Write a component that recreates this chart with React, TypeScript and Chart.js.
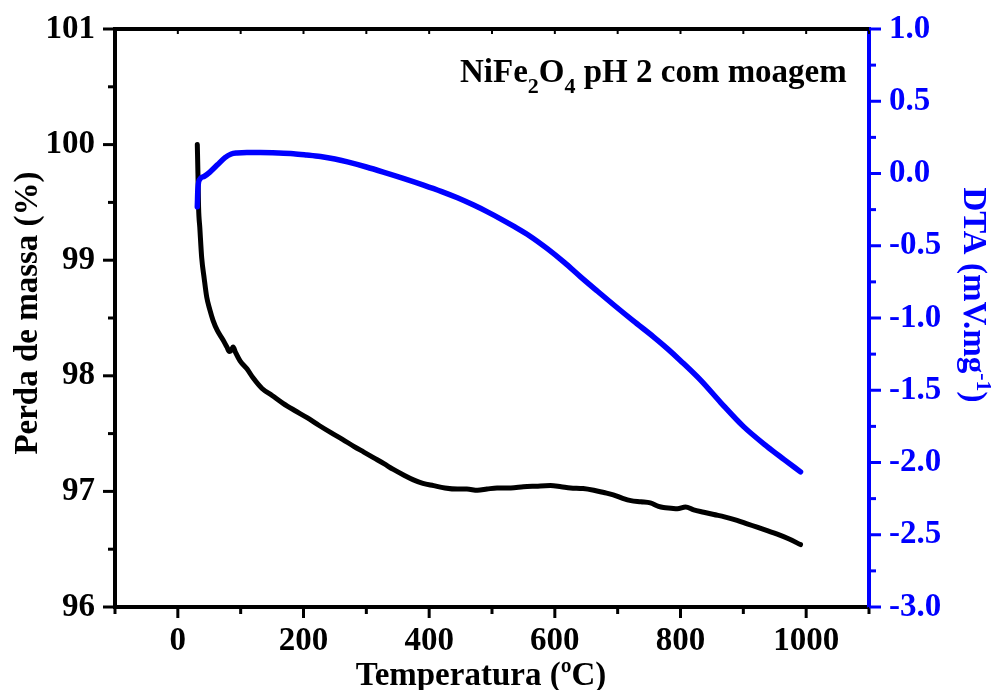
import { useEffect, useRef } from "react";
import { Chart, registerables } from "chart.js";

Chart.register(...registerables);

// Thermogravimetric curve: temperature (ºC) and remaining mass (%)
const tgTemp = [
  31, 32, 33, 35, 38, 42, 46, 51, 56, 63, 72, 78, 82, 85, 88, 92, 99, 110, 120, 134,
  150, 168, 186, 205, 225, 243, 262, 280, 296, 312, 328, 343, 360, 375, 390, 407, 425,
  445, 460, 477, 492, 508, 530, 550, 570, 593, 610, 625, 645, 662, 678, 693, 708, 721,
  737, 752, 765, 773, 785, 795, 808, 821, 837, 853, 870, 890, 906, 922, 938, 954, 972, 991,
];
const tgMass = [
  100.0, 99.75, 99.46, 99.28, 99.02, 98.84, 98.68, 98.57, 98.48, 98.39, 98.31, 98.25, 98.21,
  98.22, 98.25, 98.2, 98.13, 98.06, 97.98, 97.89, 97.83, 97.76, 97.7, 97.64, 97.57, 97.51,
  97.45, 97.39, 97.34, 97.29, 97.24, 97.19, 97.14, 97.1, 97.07, 97.05, 97.03, 97.02, 97.02,
  97.01, 97.02, 97.03, 97.03, 97.04, 97.045, 97.05, 97.04, 97.03, 97.025, 97.01, 96.99,
  96.97, 96.94, 96.92, 96.91, 96.9, 96.87, 96.86, 96.855, 96.85, 96.865, 96.84, 96.82, 96.8,
  96.78, 96.75, 96.72, 96.69, 96.66, 96.63, 96.59, 96.54,
];

// Differential thermal analysis signal (mV/mg)
const dtaTemp = [
  31, 32, 35, 42, 51, 63, 75, 85, 94, 110, 131, 160, 184, 205, 227, 250, 270, 300, 327, 360,
  391, 420, 445, 470, 492, 515, 535, 560, 588, 615, 641, 668, 694, 725, 757, 780, 800, 832,
  864, 900, 938, 965, 991,
];
const dtaSignal = [
  -0.23, -0.1, -0.04, -0.02, 0.01, 0.06, 0.11, 0.135, 0.142, 0.145, 0.145, 0.142, 0.137,
  0.128, 0.117, 0.1, 0.08, 0.045, 0.01, -0.035, -0.08, -0.125, -0.168, -0.217, -0.264, -0.317,
  -0.366, -0.432, -0.52, -0.615, -0.715, -0.815, -0.91, -1.02, -1.13, -1.215, -1.295, -1.43,
  -1.585, -1.75, -1.89, -1.98, -2.065,
];

// Axis ticks
const tempTicks = [0, 200, 400, 600, 800, 1000];
const tempMinorTicks = [-100, 100, 300, 500, 700, 900, 1100];
const massTicks = [96, 97, 98, 99, 100, 101];
const massMinorTicks = [96.5, 97.5, 98.5, 99.5, 100.5];
const dtaTicks = [-3.0, -2.5, -2.0, -1.5, -1.0, -0.5, 0.0, 0.5, 1.0];
const dtaMinorTicks = [-2.75, -2.25, -1.75, -1.25, -0.75, -0.25, 0.25, 0.75];

const FONT = "'Liberation Serif', 'Times New Roman', serif";
const BLUE = "#0000ff";
const BLACK = "#000000";
const FS = 33;

type Run = { t: string; shift?: number; small?: boolean };

function drawRuns(ctx: CanvasRenderingContext2D, runs: Run[], x: number, y: number) {
  let cx = x;
  for (const r of runs) {
    ctx.font = `bold ${r.small ? 22 : FS}px ${FONT}`;
    ctx.fillText(r.t, cx, y + (r.shift || 0));
    cx += ctx.measureText(r.t).width;
  }
}

function runsWidth(ctx: CanvasRenderingContext2D, runs: Run[]) {
  let w = 0;
  for (const r of runs) {
    ctx.font = `bold ${r.small ? 22 : FS}px ${FONT}`;
    w += ctx.measureText(r.t).width;
  }
  return w;
}

const frameDecor = {
  id: "frameDecor",
  afterDraw(chart: any) {
    const { ctx, chartArea: a, scales } = chart;
    const sx = scales.x;
    const sy = scales.y;
    const sy1 = scales.y1;
    const seg = (x1: number, y1: number, x2: number, y2: number, color: string, w: number) => {
      ctx.strokeStyle = color;
      ctx.lineWidth = w;
      ctx.beginPath();
      ctx.moveTo(x1, y1);
      ctx.lineTo(x2, y2);
      ctx.stroke();
    };
    ctx.save();
    ctx.lineCap = "butt";

    // top frame line with short inward ticks
    seg(a.left - 2, a.top, a.right, a.top, BLACK, 4);
    for (const v of [...tempTicks, ...tempMinorTicks]) {
      const px = sx.getPixelForValue(v);
      seg(px, a.top, px, a.top + 5, BLACK, 2);
    }

    // bottom axis ticks
    for (const v of tempTicks) {
      const px = sx.getPixelForValue(v);
      seg(px, a.bottom, px, a.bottom + 11, BLACK, 3);
    }
    for (const v of tempMinorTicks) {
      const px = sx.getPixelForValue(v);
      seg(px, a.bottom, px, a.bottom + 7, BLACK, 3);
    }

    // left axis ticks
    for (const v of massTicks) {
      const py = sy.getPixelForValue(v);
      seg(a.left, py, a.left - 12, py, BLACK, 3);
    }
    for (const v of massMinorTicks) {
      const py = sy.getPixelForValue(v);
      seg(a.left, py, a.left - 7, py, BLACK, 3);
    }

    // right axis ticks
    for (const v of dtaTicks) {
      const py = sy1.getPixelForValue(v);
      seg(a.right, py, a.right + 12, py, BLUE, 3);
    }
    for (const v of dtaMinorTicks) {
      const py = sy1.getPixelForValue(v);
      seg(a.right, py, a.right + 7, py, BLUE, 3);
    }

    ctx.textBaseline = "alphabetic";
    ctx.textAlign = "left";

    // sample label inside the plot
    ctx.fillStyle = BLACK;
    drawRuns(
      ctx,
      [
        { t: "NiFe" },
        { t: "2", small: true, shift: 11 },
        { t: "O" },
        { t: "4", small: true, shift: 11 },
        { t: " pH 2 com moagem" },
      ],
      460,
      82
    );

    // x axis title
    ctx.font = `bold ${FS}px ${FONT}`;
    ctx.textAlign = "center";
    ctx.fillText("Temperatura (ºC)", 481, 685);

    // left axis title
    ctx.save();
    ctx.translate(37, 313);
    ctx.rotate(-Math.PI / 2);
    ctx.fillText("Perda de massa (%)", 0, 0);
    ctx.restore();

    // right axis title
    ctx.textAlign = "left";
    ctx.fillStyle = BLUE;
    const dtaRuns: Run[] = [
      { t: "DTA (mV.mg" },
      { t: "-1", small: true, shift: -13 },
      { t: ")" },
    ];
    const w = runsWidth(ctx, dtaRuns);
    ctx.save();
    ctx.translate(964, 295);
    ctx.rotate(Math.PI / 2);
    drawRuns(ctx, dtaRuns, -w / 2, 0);
    ctx.restore();

    ctx.restore();
  },
};

export default function App() {
  const ref = useRef<HTMLCanvasElement>(null);

  useEffect(() => {
    if (!ref.current) return;
    const tickFont = { family: FONT, size: FS, weight: "bold" as const };
    const chart = new Chart(ref.current, {
      type: "line",
      data: {
        datasets: [
          {
            label: "DTA",
            data: dtaTemp.map((t, i) => ({ x: t, y: dtaSignal[i] })),
            yAxisID: "y1",
            borderColor: BLUE,
            borderWidth: 5.5,
            pointRadius: 0,
            borderCapStyle: "round",
            borderJoinStyle: "round",
            cubicInterpolationMode: "monotone",
            fill: false,
          },
          {
            label: "TG",
            data: tgTemp.map((t, i) => ({ x: t, y: tgMass[i] })),
            yAxisID: "y",
            borderColor: BLACK,
            borderWidth: 5,
            pointRadius: 0,
            borderCapStyle: "round",
            borderJoinStyle: "round",
            cubicInterpolationMode: "monotone",
            fill: false,
          },
        ],
      },
      options: {
        responsive: false,
        maintainAspectRatio: false,
        animation: false,
        devicePixelRatio: 1,
        layout: { padding: { top: 29, left: 0, right: 0, bottom: 0 } },
        plugins: {
          legend: { display: false },
          tooltip: { enabled: false },
        },
        scales: {
          x: {
            type: "linear",
            position: "bottom",
            min: -100,
            max: 1100,
            afterBuildTicks: (s: any) => {
              s.ticks = tempTicks.map((v) => ({ value: v }));
            },
            afterFit: (s: any) => {
              s.height = 83;
              s.paddingLeft = 0;
              s.paddingRight = 0;
            },
            grid: { display: false, drawTicks: false },
            border: { display: true, color: BLACK, width: 4 },
            ticks: {
              font: tickFont,
              color: BLACK,
              padding: 15,
              maxRotation: 0,
              callback: (v: any) => String(v),
            },
          },
          y: {
            type: "linear",
            position: "left",
            min: 96,
            max: 101,
            afterBuildTicks: (s: any) => {
              s.ticks = massTicks.map((v) => ({ value: v }));
            },
            afterFit: (s: any) => {
              s.width = 115;
              s.paddingTop = 0;
              s.paddingBottom = 0;
            },
            grid: { display: false, drawTicks: false },
            border: { display: true, color: BLACK, width: 4 },
            ticks: { font: tickFont, color: BLACK, padding: 20, callback: (v: any) => String(v) },
          },
          y1: {
            type: "linear",
            position: "right",
            min: -3,
            max: 1,
            afterBuildTicks: (s: any) => {
              s.ticks = dtaTicks.map((v) => ({ value: v }));
            },
            afterFit: (s: any) => {
              s.width = 126;
              s.paddingTop = 0;
              s.paddingBottom = 0;
            },
            grid: { display: false, drawTicks: false },
            border: { display: true, color: BLUE, width: 4 },
            ticks: {
              font: tickFont,
              color: BLUE,
              padding: 20,
              callback: (v: any) => Number(v).toFixed(1),
            },
          },
        },
      },
      plugins: [frameDecor],
    });
    return () => chart.destroy();
  }, []);

  return (
    <div style={{ position: "absolute", left: 0, top: 0, width: 995, height: 690, background: "#fff" }}>
      <canvas ref={ref} width={995} height={690} style={{ display: "block" }} />
    </div>
  );
}
